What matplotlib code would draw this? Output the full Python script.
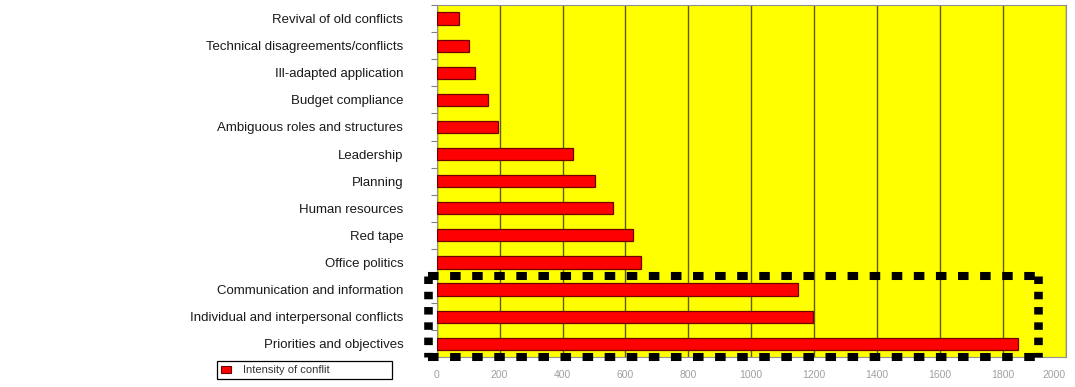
import matplotlib
matplotlib.use('Agg')
from matplotlib import pyplot as plt
from matplotlib.patches import Patch
import numpy as np

# categories, top to bottom as in the chart
categories = [
    'Revival of old conflicts',
    'Technical disagreements/conflicts',
    'Ill-adapted application',
    'Budget compliance',
    'Ambiguous roles and structures',
    'Leadership',
    'Planning',
    'Human resources',
    'Red tape',
    'Office politics',
    'Communication and information',
    'Individual and interpersonal conflicts',
    'Priorities and objectives',
]
intensity = [71, 103, 123, 162, 196, 434, 503, 560, 624, 650, 1150, 1197, 1847]
x_ticks = [0, 200, 400, 600, 800, 1000, 1200, 1400, 1600, 1800, 2000]
series_name = 'Intensity of conflit'

# the three highlighted categories and the ends of the dashed frame
highlight = ['Communication and information',
             'Individual and interpersonal conflicts',
             'Priorities and objectives']
frame_right = 1911
frame_left = -27

plt.rcParams['font.family'] = ['Liberation Sans', 'DejaVu Sans']
plt.rcParams['lines.scale_dashes'] = False

W, H = 1075, 387
fig = plt.figure(figsize=(W / 100, H / 100), dpi=100)
ax = fig.add_axes([436.7 / W, 1 - 357.3 / H, (1065.7 - 436.7) / W, (357.3 - 5) / H])
ax.set_facecolor('#ffff00')

y = np.arange(len(categories))
ax.barh(y, intensity, height=0.45, color='#ff0000', edgecolor='#6e0000',
        linewidth=0.9, zorder=3, label=series_name)

ax.set_xlim(0, 2000)
ax.set_ylim(len(categories) - 0.5, -0.5)

ax.set_xticks(x_ticks)
ax.set_xticklabels([str(t) for t in x_ticks], fontsize=7.5, color='#a0a0a0')
ax.tick_params(axis='x', length=0, pad=9)
# last label would run off the right edge
ax.get_xticklabels()[-1].set_horizontalalignment('right')
ax.grid(axis='x', color='#5c5c10', linewidth=1.0, zorder=1)

ax.set_yticks(y)
ax.set_yticklabels(categories, fontsize=9.5, color='#1a1a1a')
ax.tick_params(axis='y', which='major', length=0, pad=24)
ax.set_yticks(np.arange(len(categories) + 1) - 0.5, minor=True)
ax.tick_params(axis='y', which='minor', length=4, color='#808080', width=0.8)

for side in ['left', 'top', 'right', 'bottom']:
    ax.spines[side].set_color('#909090')
    ax.spines[side].set_linewidth(0.8)

# dashed frame around the bottom three categories
idx = [categories.index(c) for c in highlight]
top = min(idx) - 0.5
bottom = max(idx) + 0.5
hkw = dict(color='black', linewidth=5.8, linestyle=(0, (7.6, 8.3)),
           clip_on=False, zorder=5)
vkw = dict(color='black', linewidth=6.2, linestyle=(0, (5.4, 5.6)),
           clip_on=False, zorder=5)
ax.plot([frame_left, frame_right], [top, top], **hkw)
ax.plot([frame_left, frame_right], [bottom, bottom], **hkw)
ax.plot([frame_left, frame_left], [top, bottom], **vkw)
ax.plot([frame_right, frame_right], [top, bottom], **vkw)

handle = Patch(facecolor='#ff0000', edgecolor='#6e0000', linewidth=0.8)
leg = fig.legend([handle], [series_name], loc='center',
                 bbox_to_anchor=(217 / W, 1 - 385 / H, 175 / W, 30 / H),
                 mode='expand', fancybox=False, framealpha=1,
                 edgecolor='black', fontsize=8, handlelength=0.9,
                 handleheight=0.6, handletextpad=1.0, borderpad=0.4,
                 borderaxespad=0)
leg.get_frame().set_linewidth(0.9)
for t in leg.get_texts():
    t.set_color('#333333')

fig.savefig('out.png', dpi=100)
